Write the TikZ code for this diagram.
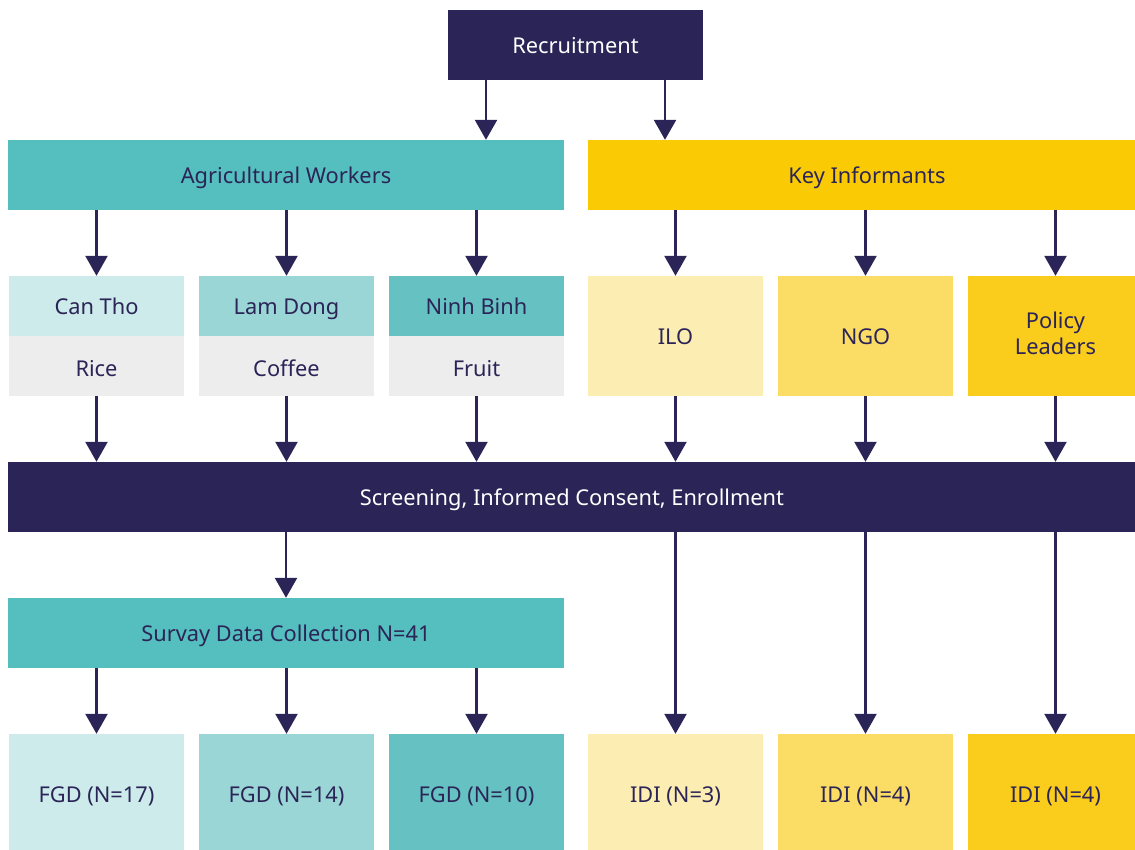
\documentclass[tikz,border=0pt]{standalone}
\usepackage{fontspec}
\setmainfont{Noto Sans}
\usepackage{tikz}
\usetikzlibrary{arrows.meta}

\definecolor{navy}{HTML}{2B2456}
\definecolor{tealmain}{HTML}{55BFBF}
\definecolor{tealA}{HTML}{CCEBEA}
\definecolor{tealB}{HTML}{9AD6D6}
\definecolor{tealC}{HTML}{66C2C2}
\definecolor{greycrop}{HTML}{EDEDED}
\definecolor{goldmain}{HTML}{FACB05}
\definecolor{goldA}{HTML}{FCEDB3}
\definecolor{goldB}{HTML}{FBDD66}
\definecolor{goldC}{HTML}{FACC1C}

\begin{document}
\begin{tikzpicture}[x=1pt,y=-1pt,
  txt/.style={rectangle,inner sep=0,text=navy,align=center,
    font=\fontsize{21.8}{26}\selectfont},
  box/.style={txt,text height=17pt,text depth=0pt},
  darkbox/.style={box,fill=navy,text=white,minimum height=70},
  wide/.style={box,minimum width=556,minimum height=70},
  half/.style={box,minimum width=175,minimum height=60},
  tall/.style={box,minimum width=175,minimum height=120},
  arr/.style={draw=navy,line width=2.5pt,-{Triangle[width=22pt,length=20pt]}}]
  \useasboundingbox (0,0) rectangle (1135,850);

  \node[darkbox,minimum width=255] (rec) at (575.5,45) {Recruitment};
  \node[wide,fill=tealmain] (agw) at (286,175) {Agricultural Workers};
  \node[wide,fill=goldmain,minimum width=558] (ki) at (867,175) {Key Informants};

  \node[half,fill=tealA] (cantho) at (96.5,306) {Can Tho};
  \node[half,fill=greycrop,text height=20pt] (rice) at (96.5,366) {Rice};
  \node[half,fill=tealB] (lamdong) at (286.5,306) {Lam Dong};
  \node[half,fill=greycrop,text height=20pt] (coffee) at (286.5,366) {Coffee};
  \node[half,fill=tealC] (ninhbinh) at (476.5,306) {Ninh Binh};
  \node[half,fill=greycrop,text height=20pt] (fruit) at (476.5,366) {Fruit};
  \node[tall,fill=goldA] (ilo) at (675.5,336) {ILO};
  \node[tall,fill=goldB] (ngo) at (865.5,336) {NGO};
  \node[txt,minimum width=175,minimum height=120,fill=goldC] (policy) at (1055.5,336) {Policy\\Leaders\\[-20pt]};

  \node[darkbox,minimum width=1128] (scr) at (572,497) {Screening, Informed Consent, Enrollment};
  \node[wide,fill=tealmain] (svy) at (286,633) {Survay Data Collection N=41};

  \node[tall,fill=tealA] (fgda) at (96.5,794) {FGD (N=17)};
  \node[tall,fill=tealB] (fgdb) at (286.5,794) {FGD (N=14)};
  \node[tall,fill=tealC] (fgdc) at (476.5,794) {FGD (N=10)};
  \node[tall,fill=goldA] (idia) at (675.5,794) {IDI (N=3)};
  \node[tall,fill=goldB] (idib) at (865.5,794) {IDI (N=4)};
  \node[tall,fill=goldC] (idic) at (1055.5,794) {IDI (N=4)};

  \draw[arr] ([xshift=-89.5]rec.south) -- ([xshift=-89.5]rec.south |- agw.north);
  \draw[arr] ([xshift=89.5]rec.south) -- ([xshift=89.5]rec.south |- ki.north);

  \foreach \n in {cantho,lamdong,ninhbinh}
    \draw[arr] (agw.south -| \n.north) -- (\n.north);
  \foreach \n in {ilo,ngo,policy}
    \draw[arr] (ki.south -| \n.north) -- (\n.north);

  \foreach \n in {rice,coffee,fruit,ilo,ngo,policy}
    \draw[arr] (\n.south) -- (\n.south |- scr.north);

  \draw[arr] (scr.south -| svy.north) -- (svy.north);
  \foreach \n in {fgda,fgdb,fgdc}
    \draw[arr] (svy.south -| \n.north) -- (\n.north);
  \foreach \n in {idia,idib,idic}
    \draw[arr] (scr.south -| \n.north) -- (\n.north);
\end{tikzpicture}
\end{document}
